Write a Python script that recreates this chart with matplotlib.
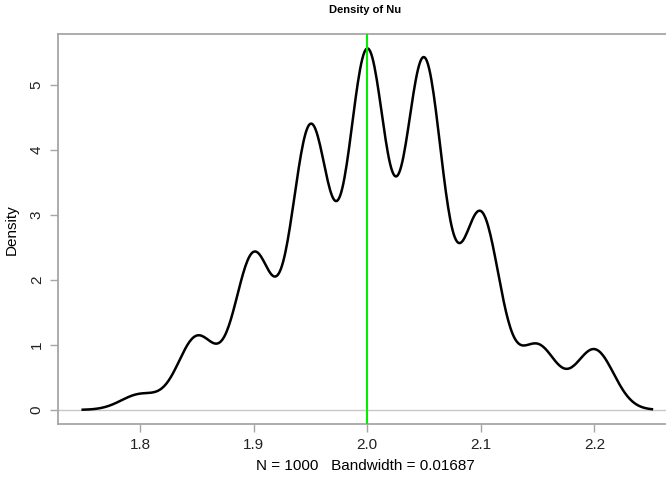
import numpy as np
import matplotlib
matplotlib.use("Agg")
import matplotlib.pyplot as plt

plt.rcParams["font.family"] = ["Liberation Sans", "DejaVu Sans"]

# Observed values of Nu (discrete on a 0.05 grid) and how often each occurs
NU_VALUES = [1.80, 1.85, 1.90, 1.95, 2.00, 2.05, 2.10, 2.15, 2.20]
NU_COUNTS = [10, 47, 100, 182, 230, 225, 126, 41, 39]
BANDWIDTH = 0.01687
REF_VALUE = 2.0
X_TICKS = [1.8, 1.9, 2.0, 2.1, 2.2]
Y_TICKS = [0, 1, 2, 3, 4, 5]

GRAY = "#a6a6a6"


def gaussian_kde(values, counts, bw, n_grid=512, cut=3):
    values = np.asarray(values, dtype=float)
    counts = np.asarray(counts, dtype=float)
    grid = np.linspace(values.min() - cut * bw, values.max() + cut * bw, n_grid)
    z = (grid[:, None] - values[None, :]) / bw
    dens = (np.exp(-0.5 * z ** 2) * counts).sum(axis=1) / (counts.sum() * bw * np.sqrt(2 * np.pi))
    return grid, dens


x, y = gaussian_kde(NU_VALUES, NU_COUNTS, BANDWIDTH)
n_obs = int(sum(NU_COUNTS))

fig = plt.figure(figsize=(6.66, 4.78), dpi=100)
ax = fig.add_axes([0.0866, 0.1123, 0.923, 0.8166])

ax.axhline(0, color="#c8c8c8", lw=1.0, zorder=1)
ax.plot(x, y, color="black", lw=1.8, zorder=2)
ax.axvline(REF_VALUE, color="#00ee00", lw=1.5, zorder=3)

# R-style 4% padding around the data range
xr = x.max() - x.min()
ax.set_xlim(x.min() - 0.044 * xr, x.max() + 0.036 * xr)
ax.set_ylim(-0.04 * y.max(), 1.04 * y.max())

ax.set_xticks(X_TICKS)
ax.set_xticklabels([f"{t:.1f}" for t in X_TICKS])
ax.set_yticks(Y_TICKS)
ax.set_yticklabels([str(t) for t in Y_TICKS], rotation=90, va="center")
ax.tick_params(axis="both", direction="out", length=6, width=1.0, color=GRAY,
               labelsize=11, labelcolor="#222222", pad=4)

for side in ax.spines.values():
    side.set_color(GRAY)
    side.set_linewidth(1.3)

ax.set_title("Density of Nu", fontsize=8, fontweight="bold", pad=15)
ax.set_xlabel(f"N = {n_obs}   Bandwidth = {BANDWIDTH}", fontsize=11, labelpad=5)
ax.set_ylabel("Density", fontsize=11, labelpad=8)

fig.savefig("out.png", dpi=100)
